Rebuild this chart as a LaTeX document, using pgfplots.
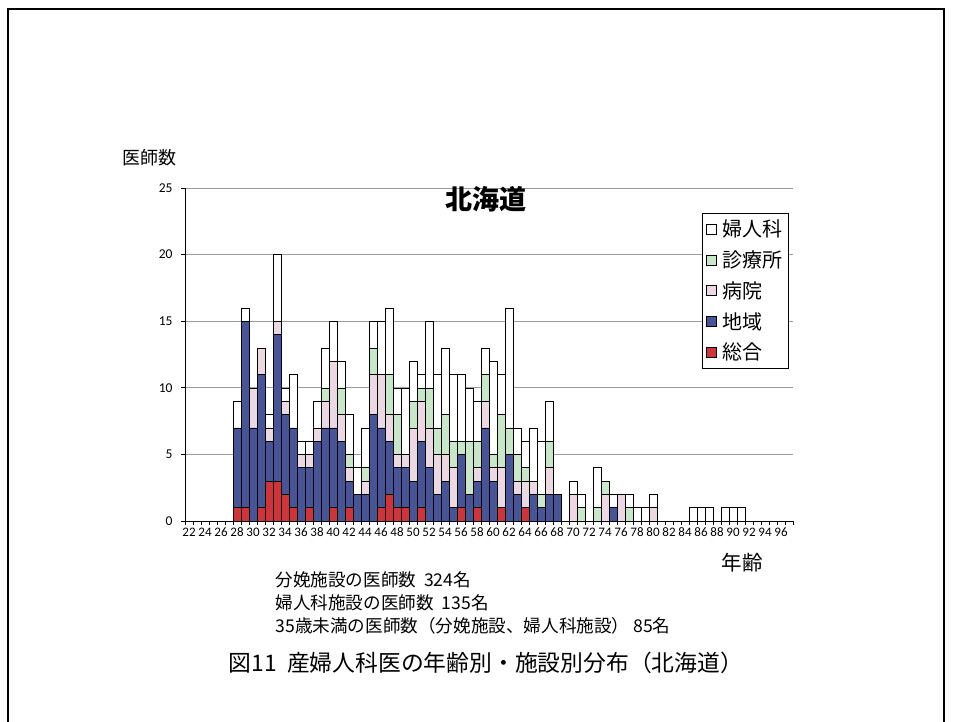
\documentclass[border=0pt]{standalone}
\usepackage{fontspec}
\usepackage{pgfplots}
\usepackage{pgfplotstable}
\pgfplotsset{compat=1.18}
\setmainfont{Carlito}
\newfontfamily\cjk{Noto Sans CJK JP}
\newfontfamily\num{Carlito}

\definecolor{sogo}{RGB}{208,52,58}
\definecolor{chiiki}{RGB}{72,84,152}
\definecolor{byoin}{RGB}{236,216,226}
\definecolor{shinryo}{RGB}{200,230,200}
\definecolor{gridgray}{RGB}{155,155,155}

% doctors per age: general perinatal centre, regional centre, hospital, clinic, gynaecology only
\pgfplotstableread{
age sogo chiiki byoin shinryo fujin
28 1 6 0 0 2
29 1 14 0 0 1
30 0 7 3 0 0
31 1 10 2 0 0
32 3 3 1 0 1
33 3 11 1 0 5
34 2 6 1 0 1
35 1 6 0 0 4
36 0 4 1 0 1
37 1 3 1 0 1
38 0 6 1 0 2
39 0 7 2 1 3
40 1 6 5 0 3
41 0 6 2 2 2
42 1 2 1 1 3
43 0 2 0 0 2
44 0 2 1 1 3
45 0 8 3 2 2
46 1 6 4 0 4
47 2 4 2 3 5
48 1 3 1 3 2
49 1 3 1 0 5
50 0 3 4 2 3
51 1 5 3 1 1
52 0 4 3 3 5
53 0 2 3 2 4
54 0 3 2 3 5
55 0 1 3 2 5
56 1 4 0 1 5
57 0 2 0 4 4
58 1 2 1 2 3
59 0 7 2 2 2
60 0 3 1 1 7
61 1 0 3 4 3
62 0 5 0 2 9
63 0 2 1 2 2
64 1 0 2 1 2
65 0 2 1 0 4
66 0 1 0 1 4
67 0 2 2 2 3
68 0 2 0 0 0
69 0 0 0 0 0
70 0 0 2 0 1
71 0 0 0 1 1
72 0 0 0 0 0
73 0 0 0 1 3
74 0 0 2 1 0
75 0 1 0 0 1
76 0 0 2 0 0
77 0 0 0 1 1
78 0 0 0 0 1
79 0 0 0 0 1
80 0 0 1 0 1
81 0 0 0 0 0
82 0 0 0 0 0
83 0 0 0 0 0
84 0 0 0 0 0
85 0 0 0 0 1
86 0 0 0 0 1
87 0 0 0 0 1
88 0 0 0 0 0
89 0 0 0 0 1
90 0 0 0 0 1
91 0 0 0 0 1
}\doctors

\begin{document}
\begin{tikzpicture}[x=1pt,y=1pt]
\useasboundingbox (0,0) rectangle (953,722);
% page frame
\draw[line width=1.2pt] (8,0) -- (8,713) -- (944,713) -- (944,0);

\begin{axis}[
  at={(185pt,201pt)}, anchor=south west,
  scale only axis, width=608pt, height=333pt,
  xmin=21.5, xmax=97.5, ymin=0, ymax=25,
  ybar stacked, bar width=8pt,
  axis x line*=bottom, axis y line*=left,
  axis line style={black, line width=0.8pt},
  ytick={0,5,...,25},
  ymajorgrids, grid style={gridgray, line width=0.7pt},
  xtick={22,24,...,96},
  minor xtick={21.5,22.5,...,97.5},
  major x tick style={draw=none},
  minor x tick style={black, line width=0.6pt},
  y tick style={black, line width=0.6pt},
  tick align=outside,
  major tick length=4pt, minor tick length=4pt,
  /pgf/number format/assume math mode=true,
  xticklabel={\num\fontsize{13}{13}\selectfont\pgfmathprintnumber[assume math mode=true]{\tick}},
  yticklabel={\num\fontsize{13.5}{13.5}\selectfont\pgfmathprintnumber[assume math mode=true]{\tick}},
  xticklabel style={yshift=0.5pt},
  yticklabel style={xshift=-5pt},
  every axis plot/.append style={draw=black, line width=0.5pt},
  legend style={at={(0.850,0.925)}, anchor=north west, draw=black,
    line width=0.7pt, font=\cjk\fontsize{20}{20}\selectfont,
    row sep=8.5pt, inner xsep=4pt, inner ysep=4.5pt, fill=white,
    /tikz/column 1/.style={column sep=4pt}},
  legend cell align=left,
  reverse legend,
  legend image code/.code={\draw[#1, draw=black, line width=0.5pt] (2pt,-5pt) rectangle (12pt,5pt);},
]
\addplot[fill=sogo] table[x=age, y=sogo] {\doctors};
\addlegendentry{総合}
\addplot[fill=chiiki] table[x=age, y=chiiki] {\doctors};
\addlegendentry{地域}
\addplot[fill=byoin] table[x=age, y=byoin] {\doctors};
\addlegendentry{病院}
\addplot[fill=shinryo] table[x=age, y=shinryo] {\doctors};
\addlegendentry{診療所}
\addplot[fill=white] table[x=age, y=fujin] {\doctors};
\addlegendentry{婦人科}
\end{axis}

\node[font=\cjk\fontsize{18}{18}\selectfont] at (149,564) {医師数};
\node[font=\cjk\bfseries\fontsize{27}{27}\selectfont] at (486,523) {北海道};
\node[font=\cjk\fontsize{20.5}{20.5}\selectfont] at (742,159) {年齢};
\node[anchor=west, font=\cjk\fontsize{17.6}{17.6}\selectfont] at (272,142) {分娩施設の医師数\ \ 324名};
\node[anchor=west, font=\cjk\fontsize{17.6}{17.6}\selectfont] at (272,119) {婦人科施設の医師数\ \ 135名};
\node[anchor=west, font=\cjk\fontsize{17.6}{17.6}\selectfont] at (272,96) {35歳未満の医師数（分娩施設、婦人科施設）\ 85名};
\node[font=\cjk\fontsize{22.8}{22.8}\selectfont] at (486,59) {図11\ \ 産婦人科医の年齢別・施設別分布（北海道）};
\end{tikzpicture}
\end{document}
